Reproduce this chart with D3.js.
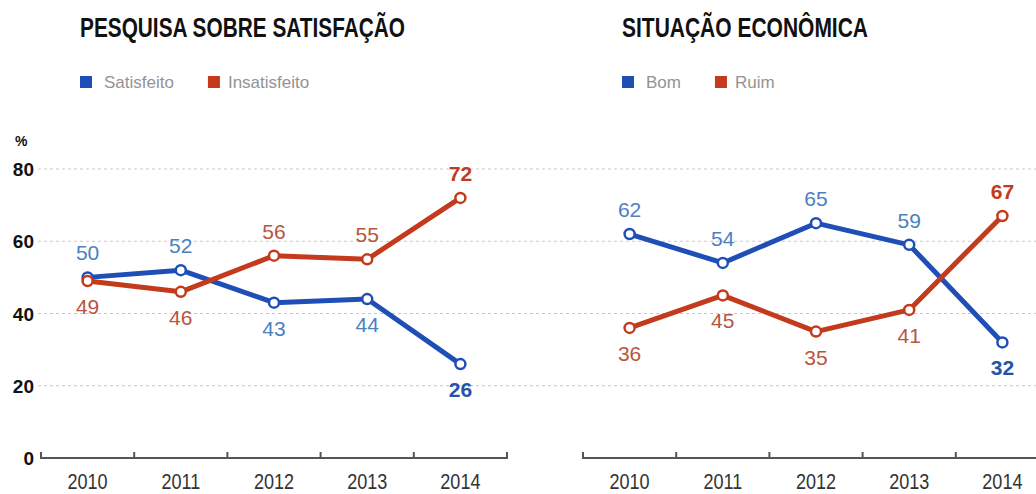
<!DOCTYPE html>
<html><head><meta charset="utf-8">
<script src="https://cdn.jsdelivr.net/npm/d3@7"></script>
<style>
html,body{margin:0;padding:0;background:#fff;}
svg{display:block;font-family:"Liberation Sans",Arial,sans-serif;}
</style></head>
<body>
<svg id="c" width="1036" height="494"></svg>
<script>
const years = ["2010","2011","2012","2013","2014"];
const yTicks = [0,20,40,60,80];
const titleLeft = "PESQUISA SOBRE SATISFAÇÃO";
const titleRight = "SITUAÇÃO ECONÔMICA";
const leftNames = ["Satisfeito","Insatisfeito"];
const rightNames = ["Bom","Ruim"];
const satisfeito = [50,52,43,44,26];
const insatisfeito = [49,46,56,55,72];
const bom = [62,54,65,59,32];
const ruim = [36,45,35,41,67];

const BLUE = "#1f4fb6", RED = "#c33b1c";
const BLUE_LBL = "#4b80c2", RED_LBL = "#b9553d";
const BLUE_FIN = "#2553a8", RED_FIN = "#c23a20";

const svg = d3.select("#c");
const y = d3.scaleLinear().domain([0,80]).range([458,169]);

function condense(sel, ratio){
  sel.each(function(){
    const w = this.getComputedTextLength();
    d3.select(this).attr("textLength", w*ratio).attr("lengthAdjust","spacingAndGlyphs");
  });
}

// gridlines
svg.append("g").selectAll("line").data(yTicks.filter(d=>d>0)).join("line")
  .attr("x1",38).attr("x2",1036)
  .attr("y1",d=>y(d)).attr("y2",d=>y(d))
  .attr("stroke","#c9c9c9").attr("stroke-width",1).attr("stroke-dasharray","3,3");

// y labels
svg.append("g").selectAll("text").data(yTicks).join("text")
  .attr("x",34).attr("y",d=>y(d)+7)
  .attr("text-anchor","end").attr("font-weight","bold").attr("font-size",19).attr("fill","#111")
  .text(d=>d);
svg.append("text").attr("x",15).attr("y",146).attr("font-weight","bold").attr("font-size",14).attr("fill","#111").text("%");

function panel(x0, x1, title, titleW, names, legX, series){
  const x = d3.scaleBand().domain(years).range([x0,x1]);
  // title
  svg.append("text").attr("x",legX).attr("y",37).attr("font-weight","bold").attr("font-size",27)
    .attr("fill","#111").attr("textLength",titleW).attr("lengthAdjust","spacingAndGlyphs").text(title);
  // legend
  const colors=[BLUE,RED];
  let lx = legX;
  names.forEach((n,i)=>{
    svg.append("rect").attr("x",lx).attr("y",76).attr("width",12).attr("height",12).attr("fill",colors[i]);
    const t = svg.append("text").attr("x",lx+ (i===0?24:20)).attr("y",88).attr("font-size",17).attr("fill","#939393").text(n);
    lx += 24 + t.node().getComputedTextLength() + (i===0?34:0);
  });
  // axis
  const g = svg.append("g").attr("transform","translate(0,458)");
  g.append("line").attr("x1",x0).attr("x2",x1).attr("stroke","#555").attr("stroke-width",2);
  const bounds = years.map(d=>x(d)).concat([x1]);
  g.selectAll("line.t").data(bounds).join("line").attr("class","t")
    .attr("x1",d=>d).attr("x2",d=>d).attr("y1",1).attr("y2",-6).attr("stroke","#555").attr("stroke-width",2);
  const yl = g.selectAll("text").data(years).join("text")
    .attr("x",d=>x(d)+x.bandwidth()/2).attr("y",31).attr("text-anchor","middle")
    .attr("font-size",22).attr("fill","#333").text(d=>d);
  condense(yl,0.82);

  const cx = d=>x(d)+x.bandwidth()/2;
  const line = d3.line().x((d,i)=>cx(years[i])).y(d=>y(d));
  const cols=[BLUE,RED], lbl=[BLUE_LBL,RED_LBL], fin=[BLUE_FIN,RED_FIN];
  series.forEach((s,k)=>{
    svg.append("path").datum(s).attr("d",line).attr("fill","none").attr("stroke",cols[k])
      .attr("stroke-width",5).attr("stroke-linejoin","round");
  });
  series.forEach((s,k)=>{
    const other = series[1-k];
    svg.append("g").selectAll("circle").data(s).join("circle")
      .attr("cx",(d,i)=>cx(years[i])).attr("cy",d=>y(d)).attr("r",5)
      .attr("fill","#fff").attr("stroke",cols[k]).attr("stroke-width",2.5);
    svg.append("g").selectAll("text").data(s).join("text")
      .attr("x",(d,i)=>cx(years[i]))
      .attr("y",(d,i)=> d>=other[i] ? y(d)-17 : y(d)+33)
      .attr("text-anchor","middle").attr("font-size",21)
      .attr("font-weight",(d,i)=> i===years.length-1 ? "bold":"normal")
      .attr("fill",(d,i)=> i===years.length-1 ? fin[k] : lbl[k])
      .text(d=>d);
  });
}

panel(41,507,titleLeft,325,leftNames,80,[satisfeito,insatisfeito]);
panel(583,1049,titleRight,246,rightNames,622,[bom,ruim]);
</script>
</body></html>
